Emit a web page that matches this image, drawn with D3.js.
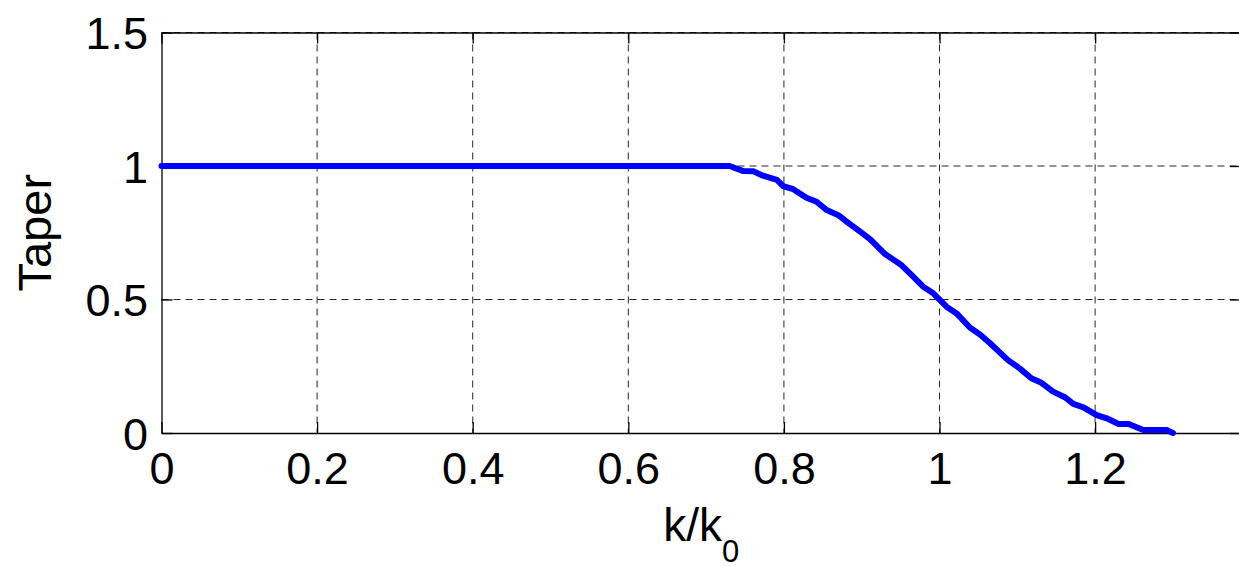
<!DOCTYPE html>
<html>
<head>
<meta charset="utf-8">
<script src="https://cdn.jsdelivr.net/npm/d3@7"></script>
<style>
  html, body { margin: 0; padding: 0; background: #fff; }
  svg { display: block; }
  text { font-family: "Liberation Sans", Arial, sans-serif; fill: #000; }
</style>
</head>
<body>
<svg id="chart" width="1239" height="566"></svg>
<script>
// Data
const kValues = [0, 0.730, 0.748, 0.761, 0.771, 0.791, 0.799, 0.812, 0.829, 0.842, 0.855, 0.870, 0.881,
  0.898, 0.911, 0.930, 0.951, 0.962, 0.979, 0.992, 1.009, 1.022, 1.039, 1.052, 1.065, 1.088, 1.103,
  1.118, 1.131, 1.146, 1.161, 1.172, 1.185, 1.202, 1.215, 1.230, 1.243, 1.262, 1.292, 1.300];
const taperValues = [1, 1.0, 0.981, 0.980, 0.966, 0.948, 0.925, 0.913, 0.881, 0.866, 0.835, 0.816, 0.791,
  0.754, 0.725, 0.670, 0.629, 0.598, 0.548, 0.523, 0.473, 0.448, 0.395, 0.369, 0.336, 0.273, 0.242,
  0.205, 0.188, 0.155, 0.134, 0.109, 0.096, 0.067, 0.055, 0.034, 0.034, 0.011, 0.011, 0.0];
const xTicks = [0, 0.2, 0.4, 0.6, 0.8, 1, 1.2];
const xTickLabels = ["0", "0.2", "0.4", "0.6", "0.8", "1", "1.2"];
const yTicks = [0, 0.5, 1, 1.5];
const yTickLabels = ["0", "0.5", "1", "1.5"];
const xDomain = [0, 1.3875];
const yDomain = [0, 1.5];
const xLabel = "k/k";
const xLabelSub = "0";
const yLabel = "Taper";

const svg = d3.select("#chart");
const L = 161.5, R = 1241, T = 32.5, B = 433;
const x = d3.scaleLinear().domain(xDomain).range([L, R]);
const y = d3.scaleLinear().domain(yDomain).range([B, T]);
const FS = 45;

// grid
const grid = svg.append("g").attr("stroke", "#262626").attr("stroke-width", 1)
  .attr("stroke-dasharray", "7,5").attr("fill", "none");
grid.selectAll("line.gx").data(xTicks.filter(d => d > 0)).enter().append("line")
  .attr("x1", d => x(d)).attr("x2", d => x(d)).attr("y1", T).attr("y2", B);
grid.selectAll("line.gy").data(yTicks.filter(d => d > 0)).enter().append("line")
  .attr("y1", d => y(d)).attr("y2", d => y(d)).attr("x1", L).attr("x2", R);

// axes (box)
const tickLen = 11;
const xAxisB = d3.axisBottom(x).tickValues(xTicks).tickSizeInner(-tickLen).tickSizeOuter(0)
  .tickFormat((d, i) => xTickLabels[i]).tickPadding(19);
const gxb = svg.append("g").attr("transform", `translate(0,${B})`).call(xAxisB);
const xAxisT = d3.axisTop(x).tickValues(xTicks).tickSizeInner(-tickLen).tickSizeOuter(0).tickFormat("");
const gxt = svg.append("g").attr("transform", `translate(0,${T})`).call(xAxisT);
const yAxisL = d3.axisLeft(y).tickValues(yTicks).tickSizeInner(-tickLen).tickSizeOuter(0)
  .tickFormat((d, i) => yTickLabels[i]).tickPadding(13.5);
const gyl = svg.append("g").attr("transform", `translate(${L},0)`).call(yAxisL);
const yAxisR = d3.axisRight(y).tickValues(yTicks).tickSizeInner(-tickLen).tickSizeOuter(0).tickFormat("");
const gyr = svg.append("g").attr("transform", `translate(${R},0)`).call(yAxisR);

[gxb, gxt, gyl, gyr].forEach(g => {
  g.select(".domain").attr("stroke", "#000").attr("stroke-width", 1.3);
  g.selectAll(".tick line").attr("stroke", "#000").attr("stroke-width", 1.3);
  g.selectAll(".tick text").attr("font-size", FS).attr("font-family", "Liberation Sans, Arial, sans-serif").attr("fill", "#000");
});
gxb.selectAll(".tick text").attr("dy", "0.71em").attr("y", 19);
gyl.selectAll(".tick text").attr("dy", "0.36em");

// line
const line = d3.line().x((d, i) => x(kValues[i])).y(d => y(d));
svg.append("path").datum(taperValues)
  .attr("d", line)
  .attr("fill", "none").attr("stroke", "#0000ff").attr("stroke-width", 6)
  .attr("stroke-linejoin", "round").attr("stroke-linecap", "round");

// labels
const xl = svg.append("text").attr("x", (L + R) / 2).attr("y", 541)
  .attr("text-anchor", "middle").attr("font-size", FS + 1);
xl.append("tspan").text(xLabel);
xl.append("tspan").attr("dy", 21).attr("font-size", 31).text(xLabelSub);

svg.append("text").attr("transform", `translate(51,${(T + B) / 2}) rotate(-90)`)
  .attr("text-anchor", "middle").attr("font-size", FS + 2).text(yLabel);
</script>
</body>
</html>
